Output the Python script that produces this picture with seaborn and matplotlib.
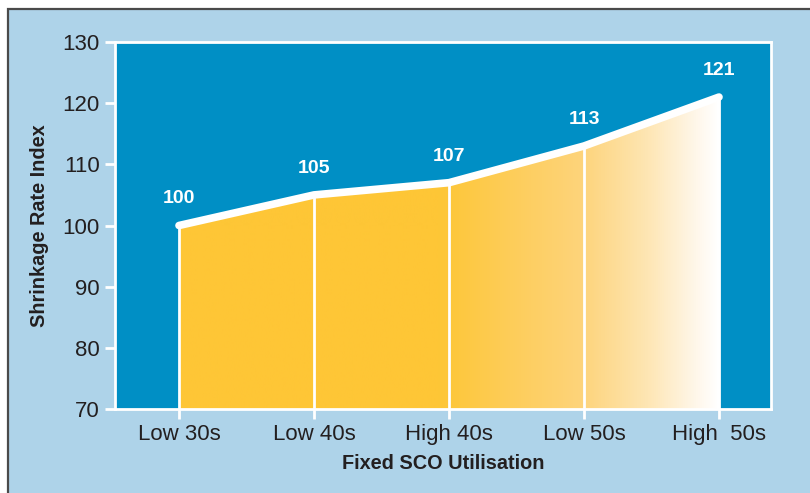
import numpy as np
import matplotlib
matplotlib.use("Agg")
import matplotlib.pyplot as plt
import seaborn as sns
import pandas as pd
from matplotlib.patches import Rectangle, Polygon
from matplotlib.colors import LinearSegmentedColormap

categories = ["Low 30s", "Low 40s", "High 40s", "Low 50s", "High  50s"]
values = [100, 105, 107, 113, 121]
yticks = [70, 80, 90, 100, 110, 120, 130]

df = pd.DataFrame({"pos": np.arange(len(categories)), "value": values, "cat": categories})

sns.set_theme(style="white")
plt.rcParams['font.family'] = ['Liberation Sans', 'DejaVu Sans']

BG = "#AED3E9"
AXBG = "#008FC5"
YEL = "#FEC636"
TXT = "#231F20"

fig = plt.figure(figsize=(8.1, 4.93), dpi=100)
fig.patch.set_facecolor("white")
W, H = 810, 493
bg = Rectangle((8 / W, -0.05), 1.1, (H - 9) / H + 0.05, transform=fig.transFigure,
               facecolor=BG, edgecolor="#4a4a4a", linewidth=1.6, zorder=-10)
fig.patches.append(bg)

ax = fig.add_axes([115 / W, 1 - 409 / H, (771 - 115) / W, (409 - 42) / H])
ax.set_zorder(5)
ax.set_facecolor(AXBG)

x0 = -64 / 135
x1 = 4 + 52 / 135

# gradient fill
cmap = LinearSegmentedColormap.from_list(
    "g", [(0, YEL), (0.48, YEL), (0.75, "#FDD47C"), (0.87, "#FEE6B4"), (0.96, "#FFF7EA"), (1.0, "#FFFFFF")])
grad = np.linspace(0, 1, 512).reshape(1, -1)
im = ax.imshow(grad, extent=[0, 4, 70, 130], aspect="auto", cmap=cmap, zorder=1, origin="lower")
poly = Polygon([(0, 70)] + list(zip(df["pos"], df["value"])) + [(4, 70)], closed=True,
               transform=ax.transData, facecolor="none", edgecolor="none")
ax.add_patch(poly)
im.set_clip_path(poly)

# vertical white lines
ax.vlines(df["pos"], 70, df["value"], colors="white", linewidth=2, zorder=2)

sns.lineplot(data=df, x="pos", y="value", ax=ax, color="white", linewidth=5.5, zorder=3,
             solid_capstyle="round", solid_joinstyle="round")

for p, v in zip(df["pos"], df["value"]):
    ax.annotate(str(v), (p, v), xytext=(0, 13), textcoords="offset points", ha="center", va="bottom",
                color="white", fontsize=14, fontweight="bold", zorder=4)

ax.set_xticks(df["pos"])
ax.set_xticklabels(categories)
ax.set_yticks(yticks)
ax.set_yticklabels([str(t) for t in yticks])
ax.set_xlim(x0, x1)
ax.set_ylim(70, 130)
ax.tick_params(axis="both", which="both", length=7, width=2, color="white", labelcolor=TXT,
               labelsize=16, direction="out", pad=4, left=True, bottom=True)
for s in ax.spines.values():
    s.set_visible(True)
    s.set_color("white")
    s.set_linewidth(2)

ax.set_xlabel("Fixed SCO Utilisation", fontsize=14.3, fontweight="bold", color=TXT, labelpad=6)
ax.set_ylabel("Shrinkage Rate Index", fontsize=14.3, fontweight="bold", color=TXT, labelpad=10)

fig.savefig("out.png", dpi=100, facecolor=fig.get_facecolor())
